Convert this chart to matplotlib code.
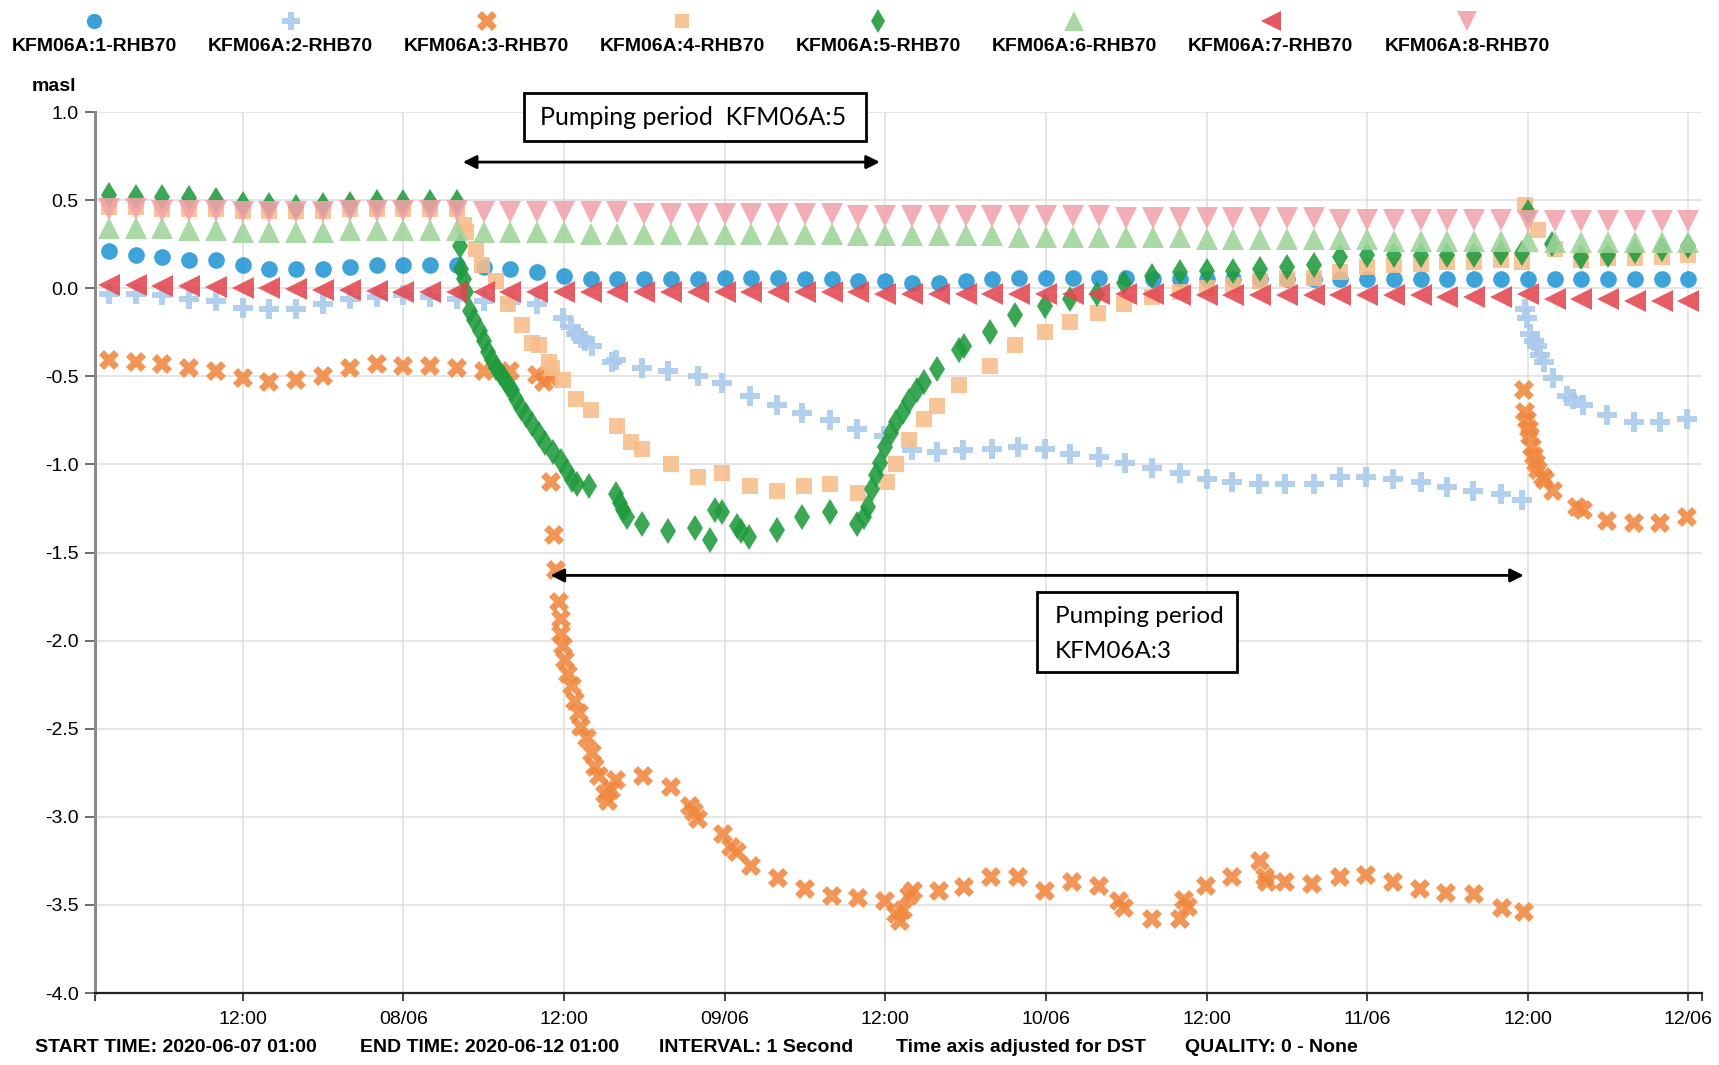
import numpy as np
import matplotlib
matplotlib.use('Agg')
import matplotlib.pyplot as plt
import matplotlib.dates as mdates
from matplotlib.lines import Line2D
from matplotlib.patches import Rectangle
from matplotlib.ticker import FixedLocator, FuncFormatter, FormatStrFormatter

plt.rcParams['font.family'] = ['Liberation Sans', 'DejaVu Sans']
plt.rcParams['axes.unicode_minus'] = False

# sample times are hours after 2020-06-07 00:00
reg_h = np.arange(2, 122, 2)

lvl_1 = [0.21, 0.19, 0.18, 0.16, 0.16, 0.13, 0.11, 0.11, 0.11, 0.12,
         0.13, 0.13, 0.13, 0.13, 0.12, 0.11, 0.09, 0.07, 0.05, 0.05,
         0.05, 0.05, 0.05, 0.06, 0.06, 0.06, 0.05, 0.05, 0.04, 0.04,
         0.03, 0.03, 0.04, 0.05, 0.06, 0.06, 0.06, 0.06, 0.06, 0.05,
         0.05, 0.05, 0.05, 0.05, 0.05, 0.05, 0.05, 0.05, 0.05, 0.05,
         0.05, 0.05, 0.05, 0.05, 0.05, 0.05, 0.05, 0.05, 0.05, 0.05]

h_2 = [2, 4, 6, 8, 10, 12, 14, 16, 18, 20, 22, 24, 26, 28, 30, 32, 34,
       35.9, 36.5, 36.9, 37.3, 37.6, 38.1, 39.6, 39.9, 41.8, 43.8, 46.0, 47.8,
       49.9, 51.9, 53.8, 55.9, 57.9, 59.9, 62.0, 63.9, 65.8, 68.0, 69.9, 71.9,
       73.8, 76.0, 77.9, 79.9, 82.0, 84.0, 85.9, 87.9, 89.9, 92.0, 94.0, 95.9,
       97.9, 100.0, 102.0, 103.9, 106.0, 107.6, 107.8, 107.95, 108.2, 108.5,
       108.7, 108.9, 109.2, 109.9, 110.9, 111.4, 112.1, 113.9, 115.9, 117.9, 119.9]
lvl_2 = [-0.03, -0.03, -0.04, -0.06, -0.075, -0.11, -0.12, -0.12, -0.09, -0.06,
         -0.05, -0.04, -0.05, -0.06, -0.07, -0.08, -0.09,
         -0.17, -0.22, -0.26, -0.28, -0.30, -0.33, -0.42, -0.41, -0.45, -0.47,
         -0.50, -0.54, -0.61, -0.66, -0.71, -0.75, -0.80, -0.84, -0.92, -0.93,
         -0.92, -0.91, -0.90, -0.91, -0.94, -0.96, -0.99, -1.02, -1.05, -1.08,
         -1.10, -1.11, -1.11, -1.11, -1.07, -1.07, -1.08, -1.10, -1.13, -1.15,
         -1.17, -1.20, -0.12, -0.17, -0.26, -0.30, -0.33, -0.38, -0.42, -0.51,
         -0.61, -0.63, -0.66, -0.72, -0.76, -0.76, -0.74]

h_3 = [2, 4, 6, 8, 10, 12, 14, 16, 18, 20, 22, 24, 26, 28, 30, 32, 34,
       34.5, 35.0, 35.05, 35.25, 35.4, 35.65, 35.75, 35.8, 35.9, 36.07, 36.3,
       36.6, 36.8, 37.1, 37.3, 37.7, 38.06, 38.3, 38.6, 39.06, 39.3, 39.5, 39.9,
       41.9, 44.0, 45.4, 45.7, 46.0, 47.9, 48.5, 48.9, 50.0, 52.0, 54.0, 56.0,
       58.0, 60.0, 60.8, 61.1, 61.3, 61.8, 62.1, 64.0, 65.9, 67.9, 69.9, 71.9,
       73.95, 75.96, 77.5, 77.85, 79.9, 82.0, 82.3, 82.6, 83.95, 85.9, 88.0,
       88.4, 88.5, 89.9, 91.9, 93.95, 95.9, 97.9, 99.96, 101.9, 104.0, 106.05,
       107.7, 107.75, 107.8, 107.95, 108.1, 108.2, 108.3, 108.45, 108.6, 108.8,
       109.1, 109.3, 109.9, 111.7, 112.1, 113.9, 115.9, 117.9, 119.9]
lvl_3 = [-0.41, -0.42, -0.43, -0.45, -0.47, -0.51, -0.53, -0.52, -0.50, -0.45,
         -0.43, -0.44, -0.44, -0.45, -0.47, -0.47, -0.49,
         -0.53, -0.51, -1.10, -1.40, -1.60, -1.78, -1.88, -1.96, -2.03, -2.11,
         -2.19, -2.26, -2.34, -2.41, -2.49, -2.55, -2.64, -2.72, -2.77, -2.87,
         -2.91, -2.85, -2.79, -2.77, -2.83, -2.94, -2.97, -3.01, -3.10, -3.17,
         -3.20, -3.28, -3.35, -3.41, -3.45, -3.46, -3.48, -3.55, -3.59, -3.53,
         -3.45, -3.42, -3.42, -3.40, -3.34, -3.34, -3.42, -3.37, -3.39, -3.48,
         -3.52, -3.58, -3.58, -3.47, -3.51, -3.39, -3.34, -3.25, -3.34, -3.37,
         -3.37, -3.38, -3.34, -3.33, -3.37, -3.41, -3.43, -3.44, -3.52, -3.54,
         -0.58, -0.70, -0.75, -0.80, -0.84, -0.90, -0.95, -0.99, -1.03, -1.07,
         -1.09, -1.15, -1.24, -1.26, -1.32, -1.33, -1.33, -1.30]

h_4 = [2, 4, 6, 8, 10, 12, 14, 16, 18, 20, 22, 24, 26, 28,
       28.5, 28.7, 29.4, 29.9, 30.9, 31.8, 32.9, 33.6, 34.1, 34.9, 35.1, 35.9,
       36.9, 38.0, 40.0, 41.0, 41.8, 44.0, 46.0, 47.8, 49.9, 51.9, 53.9, 55.9,
       58.0, 60.1, 60.8, 61.8, 62.9, 63.9, 65.5, 67.8, 69.7, 71.9, 73.8, 75.9,
       77.8, 79.9, 82.0, 84.0, 86.0, 88.0, 90.0, 92.0, 94.0, 96.0, 98.0, 100.0,
       102.0, 104.0, 106.0, 107.6, 107.8, 108.8, 110.0, 112.0, 114.0, 116.0,
       118.0, 120.0]
lvl_4 = [0.46, 0.46, 0.45, 0.45, 0.45, 0.44, 0.44, 0.44, 0.44, 0.45, 0.45, 0.45,
         0.45, 0.45,
         0.36, 0.32, 0.22, 0.13, 0.04, -0.09, -0.21, -0.31, -0.32, -0.42, -0.45,
         -0.52, -0.63, -0.69, -0.78, -0.87, -0.91, -1.00, -1.07, -1.05, -1.12,
         -1.15, -1.12, -1.11, -1.16, -1.10, -1.00, -0.86, -0.74, -0.67, -0.55,
         -0.44, -0.32, -0.25, -0.19, -0.14, -0.09, -0.05, -0.02, 0.00, 0.02,
         0.04, 0.05, 0.06, 0.09, 0.12, 0.13, 0.14, 0.15, 0.15, 0.16, 0.15, 0.47,
         0.33, 0.22, 0.16, 0.17, 0.17, 0.18, 0.19]

h_5 = [2, 4, 6, 8, 10, 12, 14, 16, 18, 20, 22, 24, 26, 28,
       28.2, 28.3, 28.5, 28.7, 29.0, 29.3, 29.7, 30.0, 30.3, 30.6, 30.9, 31.2,
       31.5, 31.8, 32.1, 32.4, 32.8, 33.2, 33.6, 34.1, 34.6, 35.2, 35.8, 36.2,
       36.6, 37.0, 37.9, 39.9, 40.2, 40.4, 40.7, 41.8, 43.8, 45.8, 46.9, 47.3,
       47.8, 48.9, 49.2, 49.8, 51.9, 53.8, 55.9, 57.9, 58.4, 58.7, 59.0, 59.3,
       59.6, 60.0, 60.4, 60.8, 61.3, 61.8, 62.4, 62.9, 63.9, 65.5, 65.9, 67.8,
       69.7, 71.9, 73.8, 75.8, 77.8, 79.9, 82.0, 84.0, 86.0, 88.0, 90.0, 92.0,
       94.0, 96.0, 98.0, 100.0, 102.0, 104.0, 106.0, 107.6, 108.0, 109.8,
       112.0, 114.0, 116.0, 118.0, 120.0]
lvl_5 = [0.53, 0.52, 0.52, 0.51, 0.50, 0.48, 0.47, 0.46, 0.47, 0.48, 0.49, 0.49,
         0.49, 0.49,
         0.24, 0.11, 0.05, -0.02, -0.13, -0.18, -0.24, -0.30, -0.36, -0.41, -0.45,
         -0.48, -0.51, -0.55, -0.58, -0.63, -0.68, -0.72, -0.77, -0.83, -0.88,
         -0.93, -0.98, -1.04, -1.09, -1.11, -1.12, -1.17, -1.22, -1.26, -1.30,
         -1.34, -1.38, -1.36, -1.43, -1.26, -1.27, -1.35, -1.38, -1.41, -1.37,
         -1.30, -1.27, -1.34, -1.30, -1.24, -1.14, -1.06, -0.99, -0.90, -0.82,
         -0.76, -0.70, -0.64, -0.58, -0.53, -0.46, -0.35, -0.33, -0.25, -0.15,
         -0.10, -0.06, -0.03, 0.03, 0.07, 0.09, 0.10, 0.10, 0.11, 0.12, 0.13,
         0.18, 0.19, 0.19, 0.19, 0.19, 0.19, 0.20, 0.20, 0.43, 0.25, 0.18, 0.19,
         0.21, 0.22, 0.24]

lvl_6 = [0.34, 0.34, 0.34, 0.33, 0.33, 0.32, 0.32, 0.32, 0.32, 0.33,
         0.33, 0.33, 0.33, 0.33, 0.32, 0.32, 0.32, 0.32, 0.31, 0.31,
         0.31, 0.31, 0.31, 0.31, 0.31, 0.31, 0.31, 0.31, 0.30, 0.30,
         0.30, 0.30, 0.30, 0.30, 0.29, 0.29, 0.29, 0.29, 0.29, 0.29,
         0.29, 0.28, 0.28, 0.28, 0.28, 0.28, 0.28, 0.28, 0.27, 0.27,
         0.27, 0.27, 0.27, 0.27, 0.26, 0.26, 0.26, 0.26, 0.26, 0.26]

lvl_7 = [0.02, 0.02, 0.015, 0.015, 0.005, 0.0, 0.0, -0.005, -0.01, -0.01,
         -0.015, -0.02, -0.02, -0.02, -0.02, -0.02, -0.02, -0.02, -0.02, -0.02,
         -0.02, -0.02, -0.02, -0.02, -0.02, -0.02, -0.02, -0.02, -0.02, -0.03,
         -0.03, -0.03, -0.03, -0.03, -0.03, -0.03, -0.03, -0.03, -0.03, -0.03,
         -0.04, -0.04, -0.04, -0.04, -0.04, -0.04, -0.04, -0.04, -0.04, -0.04,
         -0.05, -0.05, -0.05, -0.03, -0.06, -0.06, -0.06, -0.07, -0.07, -0.07]

lvl_8 = [0.45, 0.45, 0.44, 0.44, 0.44, 0.43, 0.43, 0.43, 0.43, 0.44,
         0.44, 0.44, 0.44, 0.44, 0.43, 0.43, 0.43, 0.43, 0.43, 0.43,
         0.42, 0.42, 0.42, 0.42, 0.42, 0.42, 0.42, 0.42, 0.41, 0.41,
         0.41, 0.41, 0.41, 0.41, 0.41, 0.41, 0.41, 0.41, 0.40, 0.40,
         0.40, 0.40, 0.40, 0.40, 0.40, 0.40, 0.39, 0.39, 0.39, 0.39,
         0.39, 0.39, 0.39, 0.38, 0.38, 0.38, 0.38, 0.38, 0.38, 0.38]

names = ['KFM06A:1-RHB70', 'KFM06A:2-RHB70', 'KFM06A:3-RHB70', 'KFM06A:4-RHB70',
         'KFM06A:5-RHB70', 'KFM06A:6-RHB70', 'KFM06A:7-RHB70', 'KFM06A:8-RHB70']
hours = [reg_h, h_2, h_3, h_4, h_5, reg_h, reg_h, reg_h]
levels = [lvl_1, lvl_2, lvl_3, lvl_4, lvl_5, lvl_6, lvl_7, lvl_8]
colors = ['#2396d4', '#a9c9ec', '#f0883e', '#f8bd8a', '#1f9b3c', '#9ed49a',
          '#e44650', '#f2a2aa']
markers = ['o', 'P', 'X', 's', 'd', '^', '<', 'v']
sizes = [12, 14, 15, 11, 13, 16, 16, 16]

day0 = mdates.date2num(np.datetime64('2020-06-07T00:00'))


def tx(h):
    return day0 + np.asarray(h, dtype=float) / 24.0


fig = plt.figure(figsize=(17.19, 10.65), dpi=100)
ax = fig.add_axes([0.0555, 0.0676, 0.9345, 0.8272])

for i in range(8):
    ax.plot(tx(hours[i]), levels[i], linestyle='none', marker=markers[i],
            ms=sizes[i], color=colors[i], mew=0, alpha=0.88, zorder=3 + i)

ax.set_xlim(tx(1), tx(121))
ax.set_ylim(-4.0, 1.0)

ax.xaxis.set_major_locator(FixedLocator(tx(np.arange(12, 121, 12))))
ax.xaxis.set_minor_locator(FixedLocator(tx([1, 121])))


def tick_text(v, pos):
    d = mdates.num2date(v)
    return d.strftime('%d/%m') if d.hour == 0 else d.strftime('%H:%M')


ax.xaxis.set_major_formatter(FuncFormatter(tick_text))
ax.yaxis.set_major_locator(FixedLocator(np.arange(-4.0, 1.01, 0.5)))
ax.yaxis.set_major_formatter(FormatStrFormatter('%.1f'))

ax.grid(True, color='#dedede', lw=1.1, zorder=0)
ax.set_axisbelow(True)
for s in ['top', 'right']:
    ax.spines[s].set_visible(False)
ax.spines['left'].set_color('#8a8a8a')
ax.spines['left'].set_linewidth(2.2)
ax.spines['bottom'].set_color('#222222')
ax.spines['bottom'].set_linewidth(1.6)
ax.tick_params(axis='y', length=7, width=1.2, color='#555555', pad=5,
               labelsize=14)
ax.tick_params(axis='x', which='both', length=6, width=1.2, color='#222222',
               pad=7, labelsize=14)

fig.text(0.0314, 0.919, 'masl', ha='center', va='center', fontsize=14,
         fontweight='bold')

# legend row: marker above each name
leg_x = np.array([94.3, 290.5, 486.8, 681.9, 878.1, 1074.4, 1270.6, 1466.9]) / 1719
for i in range(8):
    fig.add_artist(Line2D([leg_x[i]], [0.980], transform=fig.transFigure,
                          linestyle='none', marker=markers[i], ms=sizes[i] - 1,
                          color=colors[i], mew=0, alpha=0.9))
    fig.text(leg_x[i], 0.956, names[i], ha='center', va='center',
             fontsize=14, fontweight='bold')

# pumping periods
arrow = dict(arrowstyle='<|-|>', color='black', lw=2, shrinkA=0, shrinkB=0,
             mutation_scale=20)
ax.annotate('', xy=(tx(59.6), 0.716), xytext=(tx(28.45), 0.716),
            arrowprops=arrow, zorder=20)
ax.annotate('', xy=(tx(107.7), -1.63), xytext=(tx(35.0), -1.63),
            arrowprops=arrow, zorder=20)

fig.add_artist(Rectangle((0.3048, 0.8676), 0.1990, 0.0451,
                         transform=fig.transFigure, facecolor='white',
                         edgecolor='black', lw=2, zorder=5))
fig.text(0.3141, 0.8901, 'Pumping period  KFM06A:5', ha='left', va='center',
         fontsize=18, family='Lato', zorder=6)
fig.add_artist(Rectangle((0.6033, 0.3690), 0.1163, 0.0751,
                         transform=fig.transFigure, facecolor='white',
                         edgecolor='black', lw=2, zorder=5))
fig.text(0.6137, 0.4207, 'Pumping period', ha='left', va='center',
         fontsize=17.5, family='Lato', zorder=6)
fig.text(0.6137, 0.3878, 'KFM06A:3', ha='left', va='center',
         fontsize=17.5, family='Lato', zorder=6)

footer = [(35, 'START TIME: 2020-06-07 01:00'), (360, 'END TIME: 2020-06-12 01:00'),
          (659, 'INTERVAL: 1 Second'), (896, 'Time axis adjusted for DST'),
          (1185, 'QUALITY: 0 - None')]
for px, label in footer:
    fig.text(px / 1719, 0.0169, label, ha='left', va='center', fontsize=14,
             fontweight='bold')

fig.savefig('out.png', dpi=100)
